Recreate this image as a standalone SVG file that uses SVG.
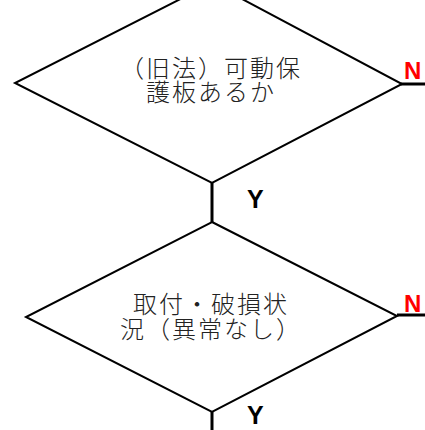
<svg xmlns="http://www.w3.org/2000/svg" width="425" height="430" viewBox="0 0 425 430">
  <style>
    .shape { fill: #ffffff; stroke: #000000; stroke-width: 2; }
    .conn { stroke: #000000; stroke-width: 3; fill: none; }
    .label { font-family: "Noto Sans CJK JP", "Noto Sans", sans-serif; font-size: 24px; font-weight: 300; letter-spacing: 2px; fill: #222222; text-anchor: middle; }
    .n { font-family: "Liberation Sans", Arial, sans-serif; font-size: 24px; font-weight: bold; fill: #ff0000; }
    .y { font-family: "Liberation Sans", Arial, sans-serif; font-size: 25px; font-weight: bold; fill: #000000; }
  </style>
  <rect width="425" height="430" fill="#ffffff"/>
  <g id="connectors">
    <line class="conn" x1="212" y1="182" x2="212" y2="223"/>
    <line class="conn" x1="212" y1="411" x2="212" y2="430"/>
    <line class="conn" x1="401" y1="84" x2="425" y2="84"/>
    <line class="conn" x1="397" y1="315" x2="425" y2="315"/>
    <text class="n" x="404" y="79">N</text>
    <text class="y" x="247" y="208">Y</text>
    <text class="n" x="404" y="312">N</text>
    <text class="y" x="247" y="424">Y</text>
  </g>
  <g id="node1">
    <polygon class="shape" points="212,-17 402,84 212,183 15,83"/>
    <text class="label" x="211" y="77">（旧法）可動保<tspan x="211" dy="24">護板あるか</tspan></text>
  </g>
  <g id="node2">
    <polygon class="shape" points="212,222 397,316 212,412 26,317"/>
    <text class="label" x="211" y="313">取付・破損状<tspan x="211" dy="25">況（異常なし）</tspan></text>
  </g>
</svg>
